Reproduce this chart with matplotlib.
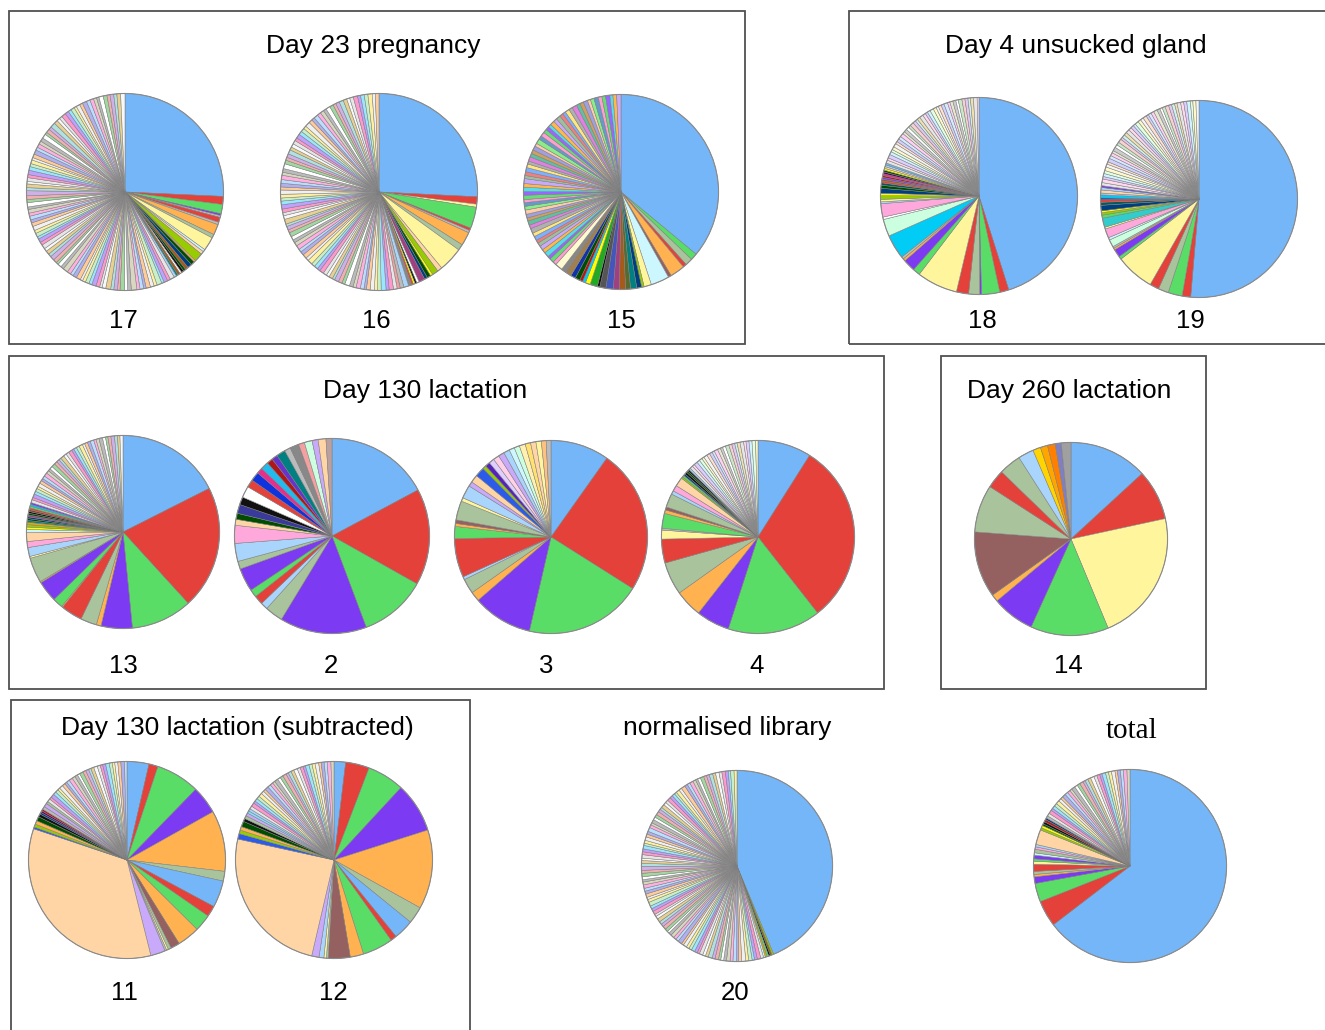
import matplotlib
matplotlib.use("Agg")
import matplotlib.pyplot as plt
from matplotlib.patches import Rectangle, Circle
from matplotlib import font_manager

W, H = 1325, 1030

# slice colours
B = "#74B6F7"; R = "#E5413B"; G = "#59DD67"; P = "#7C3AF2"; O = "#FFB24F"
S = "#A9C39C"; Y = "#FFF59D"; PE = "#FFD5A6"; M = "#946060"; LV = "#C9A9F9"
LB = "#A9D4FB"; PK = "#FFA8DC"; LC = "#CCF7FF"; MI = "#CCFFE0"; YG = "#99CC00"
CY = "#00CCF5"; NV = "#003F7F"; DG = "#004D00"; BK = "#111111"; WH = "#FFFFFF"
BR = "#A65A1A"; TL = "#008080"; GR = "#888888"; GO = "#FFD400"; AM = "#FFA500"
OR2 = "#FF8000"; SL = "#8080C0"; LG = "#BBBBBB"; RB = "#2B5BE8"; MG = "#E62E8A"
DR = "#B01818"; YE = "#FFFF00"

PALE = ["#E6E6E6", "#FFD9EC", "#DCCFFF", "#CFF3FF", "#E2FFE2", "#FFF8C8", "#F4F4F4",
        "#FFE0CC", "#D0D0FF", "#D6EAFF", "#FFD0F4", "#E8E8D0", "#CCCCCC", "#FFFFFF",
        "#C8E8C8", "#F7D0D0", "#E0C8F0", "#D0F0F0", "#F0E0B0"]
MIXED = ["#E6E6E6", "#FF99CC", "#C0A0FF", "#99E6FF", "#C8F0C8", "#FFF0A0", "#F0F0F0",
         "#FFCC99", "#B0B0F0", "#BBDDFF", "#FFB0E0", "#D8D8C0", "#BBBBBB", "#FFFFFF",
         "#A0D8A0", "#F0B0B0", "#D0B0E8", "#B0E0E0", "#E8D090", "#F8F8F8"]
BRIGHT = ["#FF9ECF", "#66DD77", "#9966FF", "#55DDEE", "#FFB84D", "#C9A9F9", "#9FC09F",
          "#F08080", "#7FB0FF", "#FFE680", "#B0B0B0", "#E080E0", "#60C0A0", "#D0A060",
          "#A0A0E0", "#FFCCAA", "#88EE88", "#6699CC"]

# ---- data (percent of clones per pie) ----
p17 = [25.3, 1.3, 1.5, 0.3, 0.3, 0.8, 0.4, 1.7, 0.6, 2.2, 0.4, 0.5, 1.4, 0.3, 0.6,
       0.7, 0.5, 0.4, 0.4, 0.3, 0.4, 0.3, 0.4]
c17 = [B, R, G, P, LG, R, LG, O, S, Y, LC, PE, YG, O, DG, NV, BR, DG, BK, WH, BR, TL, LB]
t17 = [0.7, 0.5, 0.6, 0.4, 0.8, 0.5, 0.6, 0.7, 0.4, 0.6,
       0.5, 0.9, 0.6, 0.5, 0.7, 0.4, 0.6, 0.5, 0.8, 0.6,
       0.4, 0.6, 0.7, 0.5, 0.6, 0.5, 0.4, 0.7, 0.6, 0.5,
       0.6, 0.8, 0.5, 0.6, 0.4, 0.6, 0.7, 0.5, 0.6, 0.5,
       0.7, 0.5, 0.6, 0.4, 0.6, 0.5, 0.7, 0.6, 0.5, 0.6,
       0.5, 0.6, 0.4, 0.7, 0.5, 0.6, 0.8, 0.5, 0.6, 0.4,
       0.6, 0.5, 0.7, 0.6, 0.5, 0.6, 0.4, 0.6, 0.7, 0.5,
       0.6, 0.5, 0.6, 0.7, 0.4, 0.6, 0.5, 0.8, 0.6, 0.5,
       0.5, 0.7, 0.6, 0.5, 0.6, 0.4, 0.6, 0.5, 0.7, 0.6,
       0.6, 0.5, 0.4, 0.7, 0.6, 0.5, 0.6, 0.5, 0.6, 0.7]

p16 = [25.7, 1.2, 0.5, 3.5, 0.4, 0.4, 2.2, 1.0, 4.0, 0.8, 1.0, 0.4, 0.6, 0.5, 1.0,
       0.4, 0.3, 0.3, 0.3, 0.5, 0.8, 0.6, 0.5]
c16 = [B, R, Y, G, R, LG, O, S, Y, PE, YG, YE, DG, NV, "#A04080", WH, BK, YE, R, GR,
       LB, LG, "#F0A0A0"]
t16 = [0.6, 0.7, 0.5, 0.8, 0.6, 0.5, 0.7, 0.6, 0.4, 0.6,
       0.7, 0.5, 0.6, 0.8, 0.5, 0.6, 0.7, 0.4, 0.6, 0.5,
       0.6, 0.7, 0.5, 0.6, 0.6, 0.8, 0.5, 0.7, 0.6, 0.5,
       0.7, 0.6, 0.5, 0.6, 0.7, 0.5, 0.6, 0.4, 0.8, 0.6,
       0.5, 0.6, 0.7, 0.6, 0.5, 0.6, 0.7, 0.5, 0.6, 0.6,
       0.7, 0.5, 0.6, 0.8, 0.6, 0.5, 0.6, 0.7, 0.5, 0.6,
       0.6, 0.5, 0.7, 0.6, 0.6, 0.5, 0.8, 0.6, 0.5, 0.7,
       0.6, 0.6, 0.5, 0.7, 0.6, 0.5, 0.6, 0.7, 0.6, 0.5,
       0.6, 0.7, 0.5, 0.6, 0.6, 0.7, 0.5, 0.6]

p15 = [35.4, 1.1, 1.2, 0.6, 2.4, 0.5, 3.0, 1.2, 0.4, 0.8, 1.0, 0.8, 1.0, 1.0, 1.2,
       1.0, 0.4, 1.2, 0.8, 0.5, 0.5, 0.8, 0.8, 1.0, 0.8, 1.2]
c15 = [B, G, S, R, O, M, LC, Y, YG, NV, TL, "#556B2F", BR, "#A04080", "#4455BB",
       "#555555", BK, "#22AA22", YE, CY, DR, DG, "#1133AA", "#A08050", GR, "#FFFAD0"]
t15 = [0.6, 0.7, 0.5, 0.8, 0.6, 0.7, 0.6, 0.5, 0.7, 0.6,
       0.8, 0.6, 0.7, 0.5, 0.6, 0.7, 0.6, 0.6, 0.5, 0.7,
       0.6, 0.7, 0.6, 0.8, 0.5, 0.6, 0.7, 0.6, 0.5, 0.7,
       0.6, 0.6, 0.7, 0.5, 0.8, 0.6, 0.7, 0.6, 0.6, 0.5,
       0.7, 0.6, 0.7, 0.6, 0.5, 0.7, 0.6, 0.8, 0.6, 0.6,
       0.7, 0.5, 0.6, 0.7, 0.6, 0.6, 0.7, 0.5, 0.6, 0.7]

p18 = [45.2, 1.5, 3.0, 0.3, 1.8, 2.0, 6.7, 1.2, 2.0, 0.4, 0.4, 4.0, 2.8, 0.4, 2.2,
       0.3, 0.4, 0.6, 0.4, 0.8, 0.5, 0.4, 0.3, 0.3, 0.3, 0.3, 0.3, 0.3, 0.3, 0.3,
       0.3, 0.3, 0.3]
c18 = [B, R, G, P, S, R, Y, G, P, O, LG, CY, MI, WH, PK, LB, Y, YG, YE, NV, DG,
       "#0A5A5A", R, BR, P, DR, MG, "#550055", DG, YE, PE, LB, "#66BBEE"]
t18 = [0.5, 0.4, 0.6, 0.5, 0.4, 0.5, 0.6, 0.4, 0.5, 0.5,
       0.6, 0.4, 0.5, 0.5, 0.4, 0.6, 0.5, 0.4, 0.5, 0.6,
       0.5, 0.4, 0.5, 0.6, 0.5, 0.4, 0.5, 0.5, 0.6, 0.4,
       0.5, 0.5, 0.4, 0.6, 0.5, 0.5, 0.4, 0.5, 0.6, 0.3]

p19 = [51.3, 1.4, 2.3, 1.7, 1.5, 6.3, 0.5, 1.3, 0.3, 0.3, 1.2, 0.4, 1.5, 0.3, 1.5,
       0.5, 0.4, 0.3, 0.9, 0.5, 0.4, 0.3, 0.5, 0.3, 0.5, 0.4, 0.3]
c19 = [B, R, G, S, R, Y, G, P, O, LG, MI, LC, PK, Y, "#33CCCC", G, YG, YE, NV,
       "#0A5A5A", R, "#2244AA", CY, LB, PE, LB, P]
t19 = [0.5, 0.6, 0.4, 0.5, 0.5, 0.6, 0.5, 0.4, 0.6, 0.5,
       0.5, 0.4, 0.6, 0.5, 0.5, 0.6, 0.4, 0.5, 0.5, 0.6,
       0.5, 0.5, 0.4, 0.6, 0.5, 0.5, 0.6, 0.4, 0.5, 0.5,
       0.6, 0.5, 0.4, 0.5, 0.6, 0.5, 0.5, 0.4, 0.6, 0.5,
       0.5, 0.6, 0.4, 0.5, 0.5]

p13 = [17.5, 20.6, 10.2, 5.2, 0.8, 2.7, 3.6, 0.2, 1.7, 3.5, 0.2, 4.2, 0.3, 1.5, 1.0,
       1.5, 0.5, 0.4, 0.4, 0.4, 0.3, 0.3, 0.3, 0.3, 0.3, 0.3, 0.3, 0.3, 0.3, 0.3, 0.3]
c13 = [B, R, G, P, O, S, R, O, G, P, O, S, Y, LB, PK, PE, LC, YE, YG, "#DDAA00", TL,
       DG, NV, "#A04080", DG, BK, "#884422", R, G, CY, P]
t13 = [0.5, 0.4, 0.6, 0.5, 0.5, 0.4, 0.6, 0.5, 0.4, 0.5,
       0.6, 0.5, 0.4, 0.5, 0.6, 0.5, 0.5, 0.4, 0.6, 0.5,
       0.5, 0.6, 0.4, 0.5, 0.5, 0.6, 0.4, 0.5, 0.5, 0.6,
       0.4, 0.5, 0.6, 0.5, 0.4, 0.5, 0.6, 0.5, 0.4, 0.5]

p2 = [17.3, 16.1, 11.2, 14.5, 3.0, 1.2, 1.5, 1.3, 3.9, 1.3, 3.0, 3.0, 1.0, 1.0, 1.5,
      1.3, 1.9, 1.3, 1.5, 1.0, 1.3, 1.0, 1.0, 1.5, 1.0, 1.5, 1.0, 1.3, 1.0, 1.3, 1.0]
c2 = [B, R, G, P, S, LB, R, G, P, S, LB, PK, PE, DG, "#3A3A9A", BK, WH, R, "#1133DD",
      MG, "#22BBEE", DR, "#6633CC", TL, LG, GR, "#F4A0A0", MI, LV, PE, "#BBA0A0"]

p3 = [9.8, 24.1, 19.6, 10.0, 1.6, 2.5, 0.5, 6.5, 2.0, 0.5, 0.6, 3.2, 0.6, 2.2, 0.8,
      1.3, 1.6, 0.6, 0.8, 0.9, 1.0, 1.0, 1.0, 0.9, 0.9, 1.0, 0.9, 0.9, 0.9, 0.8, 0.8]
c3 = [B, R, G, P, O, S, LB, R, G, O, M, S, Y, LB, LV, PE, RB, YG, "#5522BB", "#E0D0FF",
      "#FFD0E8", LV, LB, LC, MI, "#FFF0B0", "#FFE070", PE, Y, "#FFC080", LG]

p4 = [9.0, 30.5, 15.6, 5.6, 4.6, 5.5, 4.0, 1.5, 0.3, 2.5, 0.6, 0.5, 2.3, 0.6, 1.0,
      1.5, 0.3, 0.3, 0.3, 0.4, 0.3, 0.3, 0.3]
c4 = [B, R, G, P, O, S, R, Y, LG, G, O, M, S, LB, PK, PE, YG, G, NV, BK, DG, BK, LB]
t4 = [0.5, 0.4, 0.6, 0.5, 0.5, 0.4, 0.6, 0.5, 0.5, 0.4,
      0.6, 0.5, 0.4, 0.5, 0.6, 0.5, 0.5, 0.4, 0.5, 0.6,
      0.4, 0.5, 0.5, 0.6, 0.4]

p14 = [13.1, 8.4, 22.0, 13.0, 7.1, 1.2, 11.0, 7.9, 3.1, 3.7, 2.6, 1.3, 1.2, 1.3, 1.0, 1.6]
c14 = [B, R, Y, G, P, O, M, S, R, S, LB, GO, AM, OR2, SL, "#A0A0A0"]

p11 = [3.6, 1.5, 7.2, 4.6, 10.0, 1.6, 4.4, 1.8, 2.8, 3.7, 1.5, 0.5, 0.3, 0.3, 2.4,
       34.1, 0.3, 0.5, 0.6, 0.7, 0.5, 0.3, 0.3, 0.3, 0.5, 0.6, 0.4]
c11 = [B, R, G, P, O, S, B, R, G, O, M, S, Y, LG, LV, PE, RB, YG, O, DG, BK, NV,
       "#660066", DR, LG, LV, S]
t11 = [0.5, 0.4, 0.6, 0.5, 0.5, 0.4, 0.6, 0.5, 0.4, 0.5,
       0.6, 0.5, 0.5, 0.4, 0.6, 0.5, 0.5, 0.4, 0.5, 0.6,
       0.5, 0.4, 0.5, 0.6, 0.5, 0.4, 0.5, 0.5, 0.6, 0.4]

p12 = [1.9, 3.9, 6.1, 8.2, 13.0, 2.8, 3.3, 1.0, 5.0, 2.2, 3.6, 0.3, 0.4, 0.8, 1.2,
       24.8, 0.9, 0.6, 0.6, 0.9, 0.5, 0.5, 0.5, 0.4, 0.4]
c12 = [B, R, G, P, O, S, B, R, G, O, M, S, Y, LB, LV, PE, RB, YG, O, DG, BK, S, LV,
       "#88DDFF", LB]
t12 = [0.5, 0.6, 0.4, 0.5, 0.5, 0.6, 0.5, 0.4, 0.6, 0.5,
       0.5, 0.4, 0.6, 0.5, 0.5, 0.6, 0.4, 0.5, 0.5, 0.6,
       0.5, 0.5, 0.4, 0.6, 0.5, 0.5, 0.6, 0.4, 0.5, 0.5,
       0.6, 0.5]

p20 = [44.7, 0.3, 0.3, 0.3, 0.3, 0.3, 0.3]
c20 = [B, YG, "#886600", BK, G, "#DDAA00", LC]
t20 = [0.5, 0.6, 0.5, 0.4, 0.6, 0.5, 0.7, 0.5, 0.4, 0.6,
       0.5, 0.6, 0.5, 0.5, 0.4, 0.6, 0.5, 0.7, 0.5, 0.5,
       0.6, 0.4, 0.5, 0.6, 0.5, 0.5, 0.6, 0.4, 0.7, 0.5,
       0.5, 0.6, 0.5, 0.4, 0.5, 0.6, 0.5, 0.5, 0.6, 0.5,
       0.4, 0.6, 0.5, 0.5, 0.7, 0.5, 0.4, 0.6, 0.5, 0.5,
       0.6, 0.5, 0.4, 0.5, 0.6, 0.5, 0.7, 0.5, 0.5, 0.4,
       0.6, 0.5, 0.5, 0.6, 0.4, 0.5, 0.6, 0.5, 0.5, 0.7,
       0.5, 0.4, 0.6, 0.5, 0.5, 0.6, 0.5, 0.4, 0.6, 0.5,
       0.5, 0.6, 0.5, 0.5, 0.4, 0.6, 0.5, 0.7, 0.5, 0.5,
       0.6, 0.5, 0.4, 0.5, 0.6, 0.5, 0.5, 0.6, 0.5, 0.6,
       0.5, 0.6, 0.5, 0.4, 0.6, 0.5]

ptot = [64.6, 4.4, 3.1, 1.1, 0.4, 0.5, 1.2, 0.5, 0.4, 0.6, 0.4, 0.6, 0.4, 0.4, 2.5,
        0.4, 0.4, 0.3, 0.4, 0.4, 0.3, 0.4]
ctot = [B, R, G, P, O, S, R, Y, G, P, LC, S, PK, LB, PE, YG, YE, DG, BK, DR, NV, LG]
ttot = [0.5, 0.6, 0.4, 0.5, 0.5, 0.6, 0.5, 0.4, 0.6, 0.5,
        0.5, 0.4, 0.6, 0.5, 0.5, 0.6, 0.4, 0.5, 0.5, 0.6,
        0.5, 0.5, 0.4, 0.6, 0.5, 0.5, 0.6, 0.4, 0.5, 0.5,
        0.6, 0.5]

# ---- layout ----
# label, centre x, centre y, radius (pixels), values, colours, tail, tail palette
pies = [
    ("17", 125, 192, 100, p17, c17, t17, MIXED),
    ("16", 379, 192, 100, p16, c16, t16, MIXED),
    ("15", 621, 192, 99, p15, c15, t15, BRIGHT),
    ("18", 979, 196, 100, p18, c18, t18, PALE),
    ("19", 1199, 199, 100, p19, c19, t19, PALE),
    ("13", 123, 532, 98, p13, c13, t13, MIXED),
    ("2", 332, 536, 99, p2, c2, [], PALE),
    ("3", 551, 537, 98, p3, c3, [], PALE),
    ("4", 758, 537, 98, p4, c4, t4, PALE),
    ("14", 1071, 539, 98, p14, c14, [], PALE),
    ("11", 127, 860, 100, p11, c11, t11, MIXED),
    ("12", 334, 860, 100, p12, c12, t12, MIXED),
    ("20", 737, 866, 97, p20, c20, t20, MIXED),
    ("", 1130, 866, 98, ptot, ctot, ttot, MIXED),
]
label_pos = {"17": (123, 321), "16": (376, 321), "15": (621, 321), "18": (982, 321),
             "19": (1190, 321), "13": (123, 666), "2": (331, 666), "3": (546, 666),
             "4": (757, 666), "14": (1068, 666), "11": (124, 993), "12": (333, 993),
             "20": (735, 993)}
boxes = [(9, 11, 745, 344), (849, 11, 1335, 344), (9, 356, 884, 689),
         (941, 356, 1206, 689), (11, 700, 470, 1040)]
titles = [("Day 23 pregnancy", 373, 46), ("Day 4 unsucked gland", 1076, 46),
          ("Day 130 lactation", 425, 391), ("Day 260 lactation", 1069, 391),
          ("Day 130 lactation (subtracted)", 237, 728)]

names = {f.name for f in font_manager.fontManager.ttflist}
SANS = "Liberation Sans" if "Liberation Sans" in names else "DejaVu Sans"

fig = plt.figure(figsize=(W / 100, H / 100), dpi=100)


def fx(x):
    return x / W


def fy(y):
    return 1 - y / H


for x0, y0, x1, y1 in boxes:
    fig.add_artist(Rectangle((fx(x0), fy(y1)), fx(x1 - x0), (y1 - y0) / H,
                             transform=fig.transFigure, fill=False,
                             edgecolor="#505050", linewidth=1.3))

for lab, cx, cy, r, vals, cols, tail, pal in pies:
    ax = fig.add_axes([fx(cx - r), fy(cy + r), 2 * r / W, 2 * r / H])
    tail_cols = [pal[i % len(pal)] for i in range(len(tail))]
    ax.pie(vals + tail, colors=cols + tail_cols, startangle=90, counterclock=False,
           wedgeprops=dict(edgecolor="#7d7d7d", linewidth=0.35))
    # darker rim like the original
    ax.add_patch(Circle((0, 0), 1, fill=False, edgecolor="#8a8a8a", linewidth=0.8))
    ax.set_xlim(-1.015, 1.015)
    ax.set_ylim(-1.015, 1.015)
    ax.set_aspect("equal")
    ax.axis("off")
    if lab:
        lx, ly = label_pos[lab]
        fig.text(fx(lx), fy(ly), lab, ha="center", va="center", fontsize=18.5,
                 family=SANS)

for txt, x, y in titles:
    fig.text(fx(x), fy(y), txt, ha="center", va="center", fontsize=19, family=SANS)

if "Liberation Sans Narrow" in names:
    fig.text(fx(727), fy(728), "normalised library", ha="center", va="center",
             fontsize=23, family="Liberation Sans Narrow")
else:
    fig.text(fx(727), fy(728), "normalised library", ha="center", va="center",
             fontsize=19, family=SANS)
fig.text(fx(1132), fy(731), "total", ha="center", va="center", fontsize=21,
         family="Liberation Serif")

fig.savefig("out.png", dpi=100)
